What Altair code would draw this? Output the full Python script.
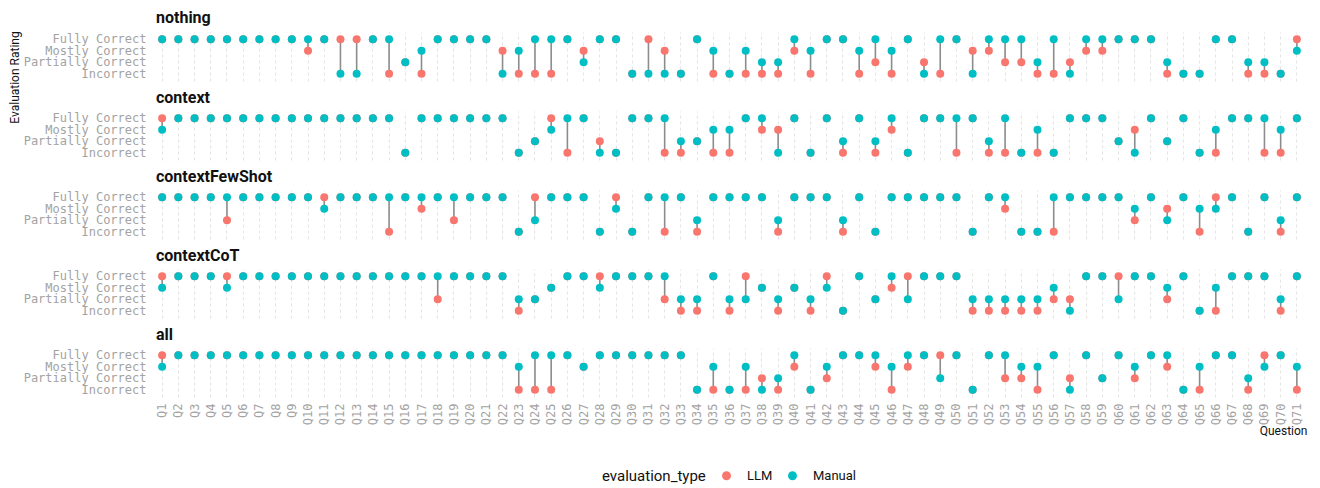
import altair as alt
import pandas as pd

questions = [f"Q{i}" for i in range(1, 72)]
ratings = ["Fully Correct", "Mostly Correct", "Partially Correct", "Incorrect"]
code_to_rating = {"F": "Fully Correct", "M": "Mostly Correct",
                  "P": "Partially Correct", "I": "Incorrect"}
strategies = ["nothing", "context", "contextFewShot", "contextCoT", "all"]

# Ratings per question Q1..Q71 (F=Fully, M=Mostly, P=Partially, I=Incorrect)
nothing_llm = list("FFFFFFFFFM" "FFFFIPIFFF" "FMIIIFMFFI" "FMIFIIIIIM" "IFFIPIFPIF" "MMPPIIPMMF" "FFIIIFFIII" "F")
nothing_manual = list("FFFFFFFFFF" "FIIFFPMFFF" "FIMFFFPFFI" "IIIFMIMPPF" "MFFMFMFIFF" "IFFFPFIFFF" "FFPIIFFPPI" "M")
context_llm = list("FFFFFFFFFF" "FFFFFIFFFF" "FFIPFIFPIF" "FIIPIIFMMF" "IFIFIMIFFI" "FIIIIIFFFP" "MFPFIIFFII" "F")
context_manual = list("MFFFFFFFFF" "FFFFFIFFFF" "FFIPMFFIIF" "FFPPMMFFIF" "IFPFPFIFFF" "FPFIMIFFFP" "IFPFIMFFFM" "F")
fewshot_llm = list("FFFFPFFFFF" "FFFFIFMFPF" "FFIFFFFIFI" "FIFIFFFFIF" "FFIFIFFFFF" "IFMIIIFFFF" "PFMFIFFIFI" "F")
fewshot_manual = list("FFFFFFFFFF" "MFFFFFFFFF" "FFIPFFFIMI" "FFFPFFFFPF" "FFPFIFFFFF" "IFFIIFFFFF" "MFPFMMFIFP" "F")
cot_llm = list("FFFFFFFFFF" "FFFFFFFPFF" "FFIPMFFFFF" "FPIIFIFMIM" "IFIFPMFFFF" "IIIIIPPFFF" "FFPFIIFFFI" "F")
cot_manual = list("MFFFMFFFFF" "FFFFFFFFFF" "FFPPMFFMFF" "FFPPFPPMPM" "PMIFPFPFFF" "PPPPPMIFFP" "FFMFIMFFFP" "F")
all_llm = list("FFFFFFFFFF" "FFFFFFFFFF" "FFIIIFMFFF" "FFFIIIIPIM" "IPFFMIMFFF" "IFPPIFPFPF" "PFMIIFFIFF" "I")
all_manual = list("MFFFFFFFFF" "FFFFFFFFFF" "FFMFFFMFFF" "FFFIMIMIPF" "IMFFFMFFPF" "IFFMMFIFPF" "MFFIMFFPMF" "M")

series = {
    "nothing": (nothing_llm, nothing_manual),
    "context": (context_llm, context_manual),
    "contextFewShot": (fewshot_llm, fewshot_manual),
    "contextCoT": (cot_llm, cot_manual),
    "all": (all_llm, all_manual),
}

LLM_COLOR = "#F8766D"
MAN_COLOR = "#00BFC4"
MONO = "DejaVu Sans Mono"
LABEL_GRAY = "#a3a3a3"

W = 1155
H = 49


def panel(name, first, last):
    llm, man = series[name]
    pts = pd.DataFrame(
        [{"question": q, "rating": code_to_rating[c], "evaluation_type": "LLM"} for q, c in zip(questions, llm)]
        + [{"question": q, "rating": code_to_rating[c], "evaluation_type": "Manual"} for q, c in zip(questions, man)]
    )
    rules = pd.DataFrame(
        [{"question": q, "llm": code_to_rating[a], "manual": code_to_rating[b]}
         for q, a, b in zip(questions, llm, man) if a != b]
    )
    if last:
        xaxis = alt.Axis(title="Question", labelAngle=270, labelFont=MONO, labelFontSize=12,
                         labelColor=LABEL_GRAY, labelPadding=6, ticks=False, domain=False,
                         grid=True, gridDash=[3, 3], gridColor="#e3e3e3", gridWidth=1,
                         titleAnchor="end", titleFont="Roboto", titleFontSize=12,
                         titleFontWeight="normal", titleColor="#111111", titlePadding=1)
    else:
        xaxis = alt.Axis(title=None, labels=False, ticks=False, domain=False,
                         grid=True, gridDash=[3, 3], gridColor="#e3e3e3", gridWidth=1)
    yargs = dict(labelFont=MONO, labelFontSize=12, labelColor=LABEL_GRAY, labelPadding=6,
                 ticks=False, domain=False, grid=False)
    if first:
        yaxis = alt.Axis(title="Evaluation Rating", titleFont="Roboto", titleFontSize=12,
                         titleFontWeight="normal", titleColor="#111111", titleAngle=270,
                         titleX=-138, titleY=45, titleAlign="center", titleBaseline="middle",
                         **yargs)
    else:
        yaxis = alt.Axis(title=None, **yargs)

    x = alt.X("question:N", scale=alt.Scale(domain=questions, padding=0.25), axis=xaxis)
    yscale = alt.Scale(domain=ratings, padding=0.25)

    rule_layer = alt.Chart(rules).mark_rule(color="#8c8c8c", strokeWidth=1.6).encode(
        x=x,
        y=alt.Y("llm:N", scale=yscale, axis=yaxis),
        y2="manual:N",
    )
    point_layer = alt.Chart(pts).mark_circle(size=64, opacity=1).encode(
        x=x,
        y=alt.Y("rating:N", scale=yscale, axis=yaxis),
        color=alt.Color("evaluation_type:N",
                        scale=alt.Scale(domain=["LLM", "Manual"], range=[LLM_COLOR, MAN_COLOR]),
                        legend=alt.Legend(title="evaluation_type", orient="none",
                                          direction="horizontal", titleOrient="left",
                                          legendX=450, legendY=437,
                                          titleFont="Roboto", titleFontSize=15,
                                          titleFontWeight="normal", titleColor="#111111",
                                          labelFont="Roboto", labelFontSize=13,
                                          labelColor="#111111", symbolType="circle",
                                          symbolSize=80, labelOffset=14, columnPadding=13,
                                          titlePadding=14)),
    )
    return alt.layer(rule_layer, point_layer).properties(
        width=W, height=H,
        title=alt.TitleParams(name, anchor="start", frame="group", font="Roboto",
                              fontSize=16, fontWeight="bold", color="#111111", offset=5, dx=4),
    )


chart = alt.vconcat(
    *[panel(n, i == 0, i == len(strategies) - 1) for i, n in enumerate(strategies)],
    spacing=30,
    bounds="flush",
).properties(
    padding={"left": 0, "top": 1, "right": 5, "bottom": 0},
    background="white",
).configure_view(stroke=None)

chart.save("out.html", embed_options={"renderer": "svg", "actions": False})
